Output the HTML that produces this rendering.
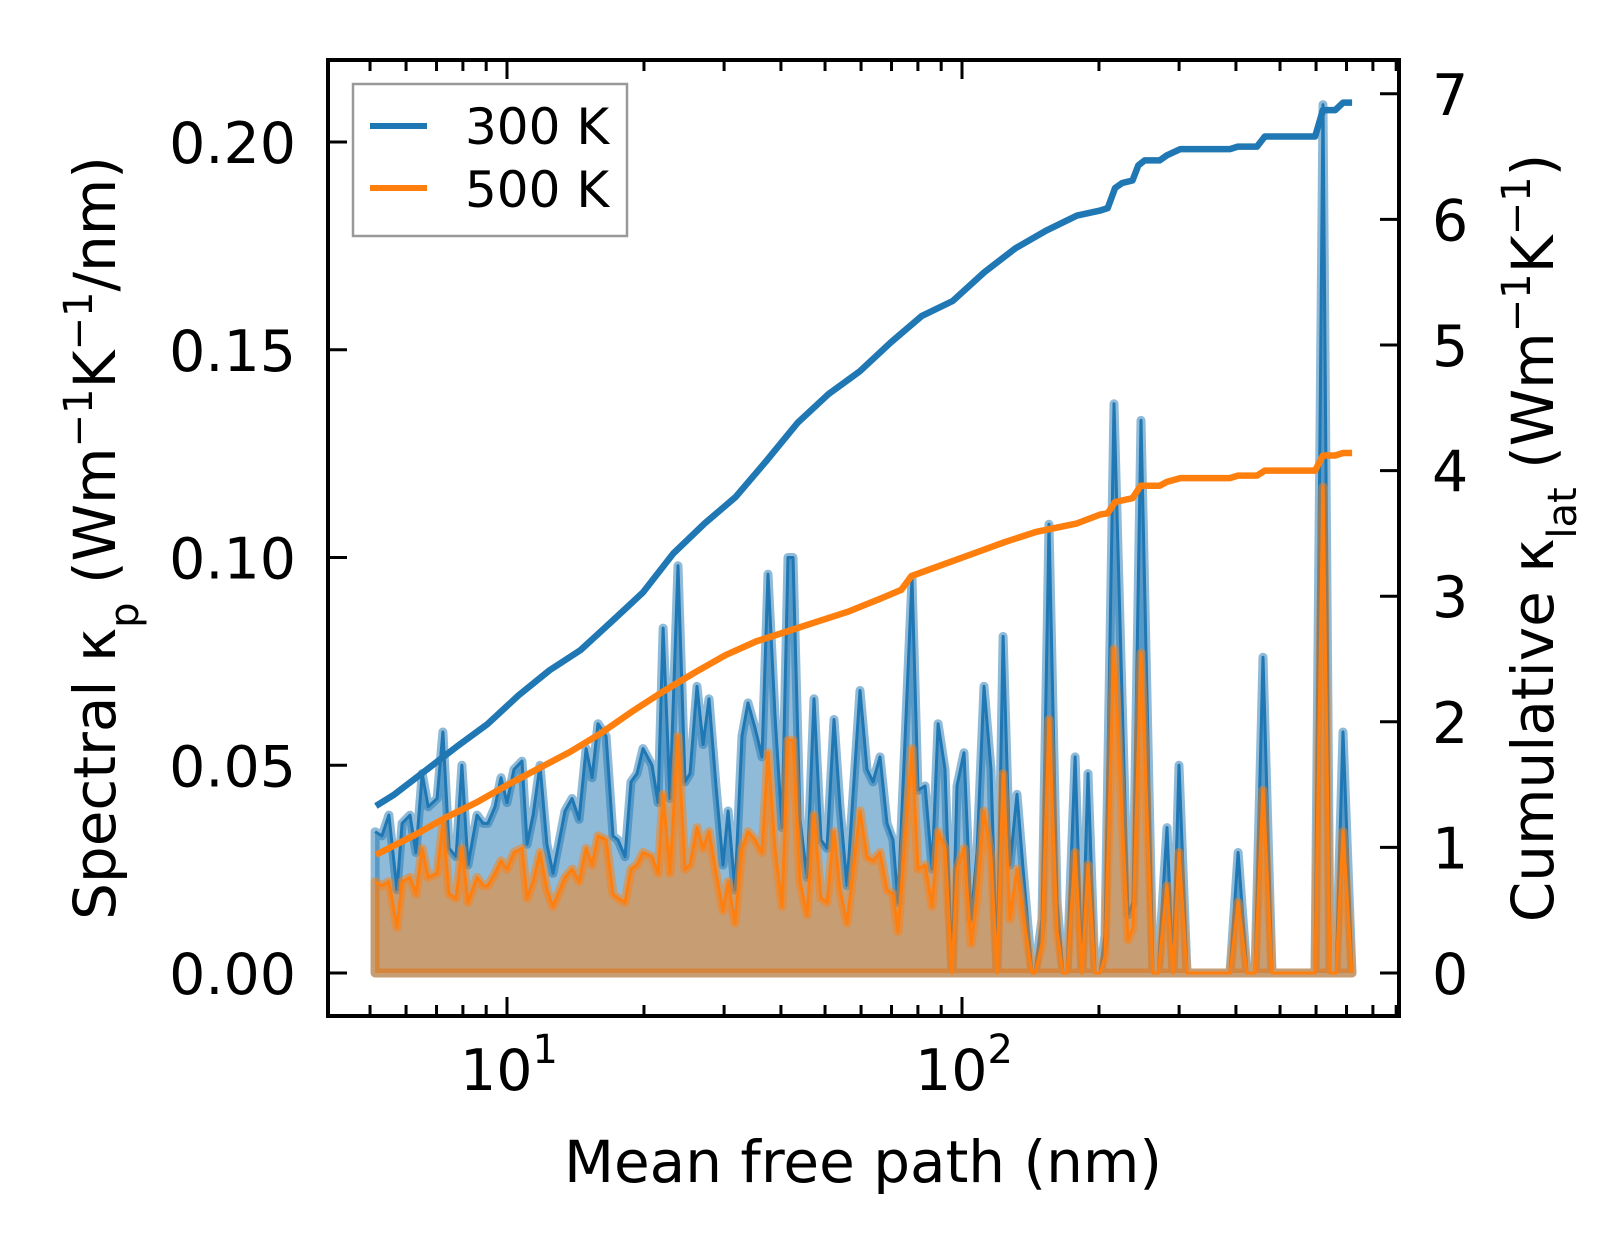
<!DOCTYPE html>
<html>
<head>
<meta charset="utf-8">
<style>
  html,body{margin:0;padding:0;background:#fff;}
  svg{display:block;}
  text{font-family:"DejaVu Sans","Liberation Sans",sans-serif;fill:#000;}
</style>
</head>
<body>
<svg id="chart" xmlns="http://www.w3.org/2000/svg" width="1623" height="1254" viewBox="0 0 1623 1254">
  <rect x="0" y="0" width="1623" height="1254" fill="#fff"/>
  <g id="plot"></g>
  <g id="axes"></g>
  <g id="legend">
    <rect x="353" y="84" width="274" height="152" fill="#fff" fill-opacity="0.8" stroke="#999" stroke-width="2.5"/>
    <line x1="370" y1="126" x2="427" y2="126" stroke="#1f77b4" stroke-width="6"/>
    <text x="465" y="144" font-size="50">300 K</text>
    <line x1="370" y1="188" x2="427" y2="188" stroke="#ff7f0e" stroke-width="6"/>
    <text x="465" y="207" font-size="50">500 K</text>
  </g>
  <text x="863" y="1182" font-size="58" text-anchor="middle">Mean free path (nm)</text>
  <text transform="translate(115,538) rotate(-90)" font-size="58" text-anchor="middle">Spectral κ<tspan baseline-shift="sub" font-size="40">p</tspan> (Wm<tspan baseline-shift="super" font-size="40">−1</tspan>K<tspan baseline-shift="super" font-size="40">−1</tspan>/nm)</text>
  <text transform="translate(1553,538) rotate(-90)" font-size="58" text-anchor="middle">Cumulative κ<tspan baseline-shift="sub" font-size="40">lat</tspan> (Wm<tspan baseline-shift="super" font-size="40">−1</tspan>K<tspan baseline-shift="super" font-size="40">−1</tspan>)</text>
</svg>
<script>
const mfp = [5.13,5.31,5.50,5.73,5.88,6.12,6.31,6.51,6.71,7.02,7.23,7.46,7.73,7.96,8.21,8.59,8.86,9.08,9.41,9.70,10.0,10.36,10.79,11.07,11.41,11.82,12.24,12.62,13.41,13.90,14.40,14.92,15.38,15.85,16.51,17.10,17.54,18.17,18.73,19.31,19.90,20.83,21.48,22.03,22.82,23.76,24.62,25.25,26.16,26.97,27.80,28.80,29.84,30.61,31.70,32.85,33.86,35.08,36.34,37.46,38.81,40.21,41.45,42.52,44.06,45.64,47.29,48.99,50.50,52.32,53.94,55.88,59.69,61.84,63.74,66.04,68.42,70.53,72.33,77.65,80.05,82.95,85.94,88.59,91.77,95.07,97.5,101.0,104.7,107.9,111.8,115.8,119.4,123.1,127.5,132.1,136.2,142.5,144.7,149.9,155.3,161.8,166.7,170.1,177.2,183.5,189.2,196.0,201.1,206.2,215.8,231.6,237.6,247.4,262.9,269.7,282.2,290.9,299.9,312.3,388.2,404.3,423.1,440.6,458.7,480.1,596.9,621.6,644.1,663.9,687.8,719.6];
const k300 = [.034,.033,.038,.020,.036,.038,.029,.048,.040,.042,.058,.030,.028,.050,.026,.038,.036,.036,.040,.047,.041,.049,.051,.031,.038,.050,.031,.024,.039,.042,.037,.054,.047,.060,.057,.033,.032,.028,.046,.048,.054,.050,.041,.083,.042,.098,.046,.048,.069,.055,.066,.045,.026,.039,.020,.057,.065,.059,.052,.096,.062,.035,.100,.100,.037,.023,.066,.032,.030,.061,.040,.021,.068,.049,.046,.052,.036,.032,.017,.095,.044,.045,.025,.060,.049,0,.045,.053,.013,.029,.069,.049,0,.081,.026,.043,.025,0,0,.013,.108,.017,0,0,.052,0,.048,0,0,.009,.137,.014,.017,.133,0,0,.035,0,.050,0,0,.029,0,0,.076,0,0,.209,0,0,.058,0];
const k500 = [.022,.021,.022,.011,.022,.023,.019,.030,.023,.024,.036,.019,.018,.030,.017,.023,.021,.021,.024,.027,.025,.029,.030,.018,.022,.029,.020,.016,.023,.025,.022,.030,.026,.033,.032,.019,.018,.017,.025,.026,.029,.028,.024,.043,.024,.057,.025,.026,.035,.030,.034,.024,.015,.022,.012,.030,.034,.032,.029,.053,.030,.016,.056,.056,.022,.014,.038,.018,.017,.034,.020,.012,.039,.028,.027,.029,.020,.019,.010,.054,.025,.026,.016,.034,.030,0,.025,.030,.007,.018,.039,.028,0,.048,.013,.025,.014,0,0,.007,.061,.010,0,0,.029,0,.026,0,0,.004,.078,.008,.011,.077,0,0,.021,0,.029,0,0,.017,0,0,.044,0,0,.117,0,0,.034,0];
const cum300X = [5.15,5.65,6.61,7.74,9.05,10.6,12.4,14.5,17.0,19.9,23.2,27.2,31.8,37.2,43.5,50.9,59.6,69.7,81.5,95.4,112,131,153,179,201,209,217,225,237,244,252,272,282,302,388,404,445,463,597,621,661,688,720];
const cum300 = [1.33,1.42,1.61,1.80,1.98,2.21,2.41,2.57,2.80,3.03,3.34,3.58,3.79,4.08,4.38,4.61,4.79,5.02,5.23,5.35,5.58,5.77,5.91,6.03,6.07,6.09,6.25,6.29,6.31,6.43,6.47,6.47,6.51,6.56,6.56,6.58,6.58,6.66,6.66,6.87,6.87,6.93,6.93];
const cum500X = [5.15,6.28,7.35,8.59,10.05,11.76,13.76,16.1,18.8,22.0,25.8,30.2,35.3,41.3,48.3,56.5,66.1,73.5,77.4,90.5,106,124,145,179,201,209,217,237,247,272,282,302,388,404,445,463,597,621,661,688,720];
const cum500 = [0.94,1.10,1.24,1.36,1.50,1.63,1.76,1.91,2.08,2.24,2.39,2.53,2.64,2.72,2.80,2.88,2.98,3.05,3.16,3.25,3.34,3.43,3.51,3.58,3.65,3.66,3.75,3.78,3.88,3.88,3.91,3.94,3.94,3.96,3.96,4.00,4.00,4.12,4.12,4.14,4.14];
const leftTicks = [0,0.05,0.10,0.15,0.20];
const leftTickLabels = ["0.00","0.05","0.10","0.15","0.20"];
const rightTicks = [0,1,2,3,4,5,6,7];
const xMajor = [10,100];
const xMinor = [5,6,7,8,9,20,30,40,50,60,70,80,90,200,300,400,500,600,700,800,900];

const NS = "http://www.w3.org/2000/svg";
const L = 328, R = 1399, T = 60, B = 1016;
function xs(v){ return 507 + (Math.log10(v) - 1) * 455; }
function yl(v){ return 973 - v * 4155; }
function yr(v){ return 973 - v * 125.6; }
function mk(tag, attrs, parent){
  const e = document.createElementNS(NS, tag);
  for (const k in attrs) e.setAttribute(k, attrs[k]);
  parent.appendChild(e);
  return e;
}
const plot = document.getElementById('plot');
const axes = document.getElementById('axes');

function areaPath(xsArr, ys){
  let d = 'M' + xs(xsArr[0]).toFixed(1) + ',' + yl(0).toFixed(1);
  for (let i = 0; i < xsArr.length; i++) d += ' L' + xs(xsArr[i]).toFixed(1) + ',' + yl(ys[i]).toFixed(1);
  d += ' L' + xs(xsArr[xsArr.length-1]).toFixed(1) + ',' + yl(0).toFixed(1) + ' Z';
  return d;
}
function linePath(xsArr, ys, yf){
  let d = '';
  for (let i = 0; i < xsArr.length; i++) d += (i ? ' L' : 'M') + xs(xsArr[i]).toFixed(1) + ',' + yf(ys[i]).toFixed(1);
  return d;
}

const a300 = mk('path', {d: areaPath(mfp, k300), fill:'#1f77b4', 'fill-opacity':0.5, stroke:'#1f77b4', 'stroke-opacity':0.5, 'stroke-width':9, 'stroke-linejoin':'round'}, plot);


const l300 = mk('path', {d: linePath(mfp, k300, yl), fill:'none', stroke:'#1f77b4', 'stroke-width':3, 'stroke-linejoin':'round'}, plot);


const a500 = mk('path', {d: areaPath(mfp, k500), fill:'#ff7f0e', 'fill-opacity':0.5, stroke:'#ff7f0e', 'stroke-opacity':0.5, 'stroke-width':9, 'stroke-linejoin':'round'}, plot);


const l500 = mk('path', {d: linePath(mfp, k500, yl), fill:'none', stroke:'#ff7f0e', 'stroke-width':3, 'stroke-linejoin':'round'}, plot);


const c300 = mk('path', {d: linePath(cum300X, cum300, yr), fill:'none', stroke:'#1f77b4', 'stroke-width':6.5, 'stroke-linejoin':'round'}, plot);


const c500 = mk('path', {d: linePath(cum500X, cum500, yr), fill:'none', stroke:'#ff7f0e', 'stroke-width':6.5, 'stroke-linejoin':'round'}, plot);



const frame = mk('rect', {x:L, y:T, width:R-L, height:B-T, fill:'none', stroke:'#000', 'stroke-width':4}, axes);



leftTicks.forEach((v, i) => {
  const y = yl(v);
  const t = mk('line', {x1:L, y1:y, x2:L+19, y2:y, stroke:'#000', 'stroke-width':3}, axes);
  
  
  const lb = mk('text', {x:296, y:y+21, 'font-size':57, 'text-anchor':'end'}, axes);
  lb.textContent = leftTickLabels[i];
  
  
});
rightTicks.forEach(v => {
  const y = yr(v);
  const t = mk('line', {x1:R, y1:y, x2:R-19, y2:y, stroke:'#000', 'stroke-width':3}, axes);
  
  
  const lb = mk('text', {x:1432, y:y+21, 'font-size':57}, axes);
  lb.textContent = String(v);
  
  
});
xMajor.forEach(v => {
  const x = xs(v);
  const tb = mk('line', {x1:x, y1:B, x2:x, y2:B-19, stroke:'#000', 'stroke-width':3}, axes);
  
  
  const tt = mk('line', {x1:x, y1:T, x2:x, y2:T+19, stroke:'#000', 'stroke-width':3}, axes);
  
  
  const lb = mk('text', {x:x+2, y:1090, 'font-size':57, 'text-anchor':'middle'}, axes);
  
  
  lb.appendChild(document.createTextNode('10'));
  const sp = mk('tspan', {'font-size':40, dy:-27}, lb);
  sp.textContent = String(Math.round(Math.log10(v)));
});
xMinor.forEach(v => {
  const x = xs(v);
  const tb = mk('line', {x1:x, y1:B, x2:x, y2:B-11, stroke:'#000', 'stroke-width':3}, axes);
  
  
  const tt = mk('line', {x1:x, y1:T, x2:x, y2:T+11, stroke:'#000', 'stroke-width':3}, axes);
  
  
});
</script>
</body>
</html>
